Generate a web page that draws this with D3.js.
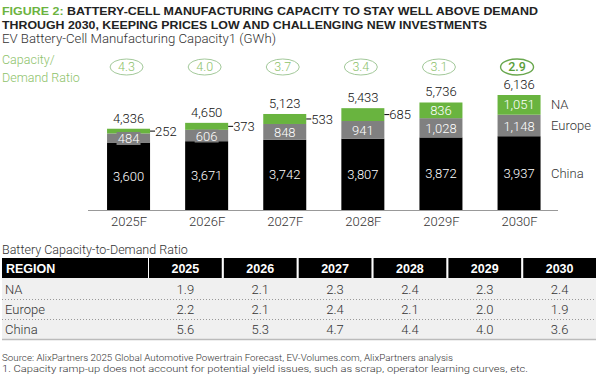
<!DOCTYPE html>
<html><head><meta charset="utf-8">
<script src="https://cdn.jsdelivr.net/npm/d3@7"></script>
<style>
html,body{margin:0;padding:0;background:#fff;}
svg{display:block;font-family:Roboto,"Noto Sans",sans-serif;}
</style></head>
<body><svg id="c" width="598" height="378"></svg>
<script>
// ---- data ----
const years = ["2025F","2026F","2027F","2028F","2029F","2030F"];
const china = [3600,3671,3742,3807,3872,3937];
const europe = [484,606,848,941,1028,1148];
const na = [252,373,533,685,836,1051];
const totals = [4336,4650,5123,5433,5736,6136];
const ratio = ["4.3","4.0","3.7","3.4","3.1","2.9"];
const tableYears = ["2025","2026","2027","2028","2029","2030"];
const tableRegions = ["NA","Europe","China"];
const naRatio = ["1.9","2.1","2.3","2.4","2.3","2.4"];
const europeRatio = ["2.2","2.1","2.4","2.1","2.0","1.9"];
const chinaRatio = ["5.6","5.3","4.7","4.4","4.0","3.6"];

const GREEN = "#69b43f", GRAY = "#808080", BLACK = "#000";
const TXT = "#333";
const svg = d3.select("#c");
const fmt = d3.format(",");

// ---- titles ----
const t1 = svg.append("text").attr("x",2).attr("y",15).attr("font-family","'Liberation Sans',Arial,sans-serif")
  .attr("font-weight","bold").attr("font-size",11.5).attr("fill","#222")
  .attr("textLength",536).attr("lengthAdjust","spacingAndGlyphs");
t1.append("tspan").attr("fill","#6cb33f").text("FIGURE 2: ");
t1.append("tspan").text("BATTERY-CELL MANUFACTURING CAPACITY TO STAY WELL ABOVE DEMAND");
svg.append("text").attr("x",2).attr("y",29).attr("font-family","'Liberation Sans',Arial,sans-serif")
  .attr("font-weight","bold").attr("font-size",11.5).attr("fill","#222")
  .attr("textLength",485).attr("lengthAdjust","spacingAndGlyphs")
  .text("THROUGH 2030, KEEPING PRICES LOW AND CHALLENGING NEW INVESTMENTS");
svg.append("text").attr("x",2).attr("y",43).attr("font-size",12.5).attr("font-weight",300).attr("fill",TXT)
  .attr("textLength",274).attr("lengthAdjust","spacingAndGlyphs")
  .text("EV Battery-Cell Manufacturing Capacity1 (GWh)");

// ---- chart ----
const x = d3.scalePoint().domain(years).range([89.5,558.1]).padding(0.5);
const y = d3.scaleLinear().domain([0,6136]).range([210,95]);
const bw = 43;

svg.append("text").attr("x",2).attr("y",64).attr("font-size",12.5).attr("font-weight",300).attr("fill","#8dc26a").text("Capacity/");
svg.append("text").attr("x",2).attr("y",82).attr("font-size",12.5).attr("font-weight",300).attr("fill","#8dc26a").text("Demand Ratio");

const g = svg.append("g");
years.forEach((yr,i)=>{
  const cx = x(yr);
  const y0 = y(0), y1 = y(china[i]), y2 = y(china[i]+europe[i]), y3 = y(china[i]+europe[i]+na[i]);
  g.append("rect").attr("x",cx-bw/2).attr("y",y1).attr("width",bw).attr("height",y0-y1).attr("fill",BLACK);
  g.append("rect").attr("x",cx-bw/2).attr("y",y2).attr("width",bw).attr("height",y1-y2).attr("fill",GRAY);
  g.append("rect").attr("x",cx-bw/2).attr("y",y3).attr("width",bw).attr("height",y2-y3).attr("fill",GREEN);
  // China label
  g.append("text").attr("x",cx).attr("y",(y0+y1)/2).attr("dy","0.35em").attr("text-anchor","middle")
    .attr("font-size",13).attr("font-weight",300).attr("fill","#fff").text(fmt(china[i]));
  // Europe label with bg box
  const ey = (y1+y2)/2 + 0.5;
  const ew = fmt(europe[i]).length*7+3;
  g.append("rect").attr("x",cx-ew/2).attr("y",ey-6.5).attr("width",ew).attr("height",13).attr("fill",GRAY);
  g.append("text").attr("x",cx).attr("y",ey).attr("dy","0.35em").attr("text-anchor","middle")
    .attr("font-size",13).attr("font-weight",300).attr("fill","#fff").text(fmt(europe[i]));
  // NA label
  const ny = (y2+y3)/2;
  if (y2-y3 >= 14) {
    g.append("text").attr("x",cx).attr("y",ny).attr("dy","0.35em").attr("text-anchor","middle")
      .attr("font-size",13).attr("font-weight",300).attr("fill","#fff").text(fmt(na[i]));
  } else {
    g.append("line").attr("x1",cx+bw/2).attr("x2",cx+bw/2+5).attr("y1",ny).attr("y2",ny).attr("stroke","#000").attr("stroke-width",1);
    g.append("text").attr("x",cx+bw/2+5).attr("y",ny).attr("dy","0.35em")
      .attr("font-size",13).attr("font-weight",300).attr("fill","#111").text(fmt(na[i]));
  }
  // total
  g.append("text").attr("x",cx).attr("y",y3-6).attr("text-anchor","middle")
    .attr("font-size",13).attr("font-weight",300).attr("fill","#111").text(fmt(totals[i]));
  // ratio ellipse
  const last = i===years.length-1;
  g.append("ellipse").attr("cx",cx-2).attr("cy",67).attr("rx",16.5).attr("ry",8)
    .attr("fill","none").attr("stroke",last?"#6aa84f":"#a3c99a").attr("stroke-width",last?1.4:1);
  g.append("text").attr("x",cx-2).attr("y",67).attr("dy","0.35em").attr("text-anchor","middle")
    .attr("font-size",12.5).attr("font-weight",last?500:300).attr("fill",last?"#5a9e3a":"#8dc26a").text(ratio[i]);
});

// axis
const xAxis = svg.append("g").attr("transform","translate(0,210)")
  .call(d3.axisBottom(x).tickSize(0).tickPadding(7));
xAxis.select(".domain").attr("d","M88,0.5H558").attr("stroke","#999");
xAxis.selectAll("text").attr("font-size",13).attr("font-weight",300).attr("fill",TXT).attr("font-family","Roboto,sans-serif");

// legend labels at right
const lastI = years.length-1;
const lx = 551;
const legend = [
  ["NA",(y(china[lastI]+europe[lastI])+y(totals[lastI]))/2],
  ["Europe",(y(china[lastI])+y(china[lastI]+europe[lastI]))/2],
  ["China",(y(0)+y(china[lastI]))/2]
];
legend.forEach(([t,ly])=>{
  svg.append("text").attr("x",lx).attr("y",ly).attr("dy","0.35em").attr("font-size",13).attr("font-weight",300).attr("fill",TXT).text(t);
});

// ---- table ----
svg.append("text").attr("x",2).attr("y",254).attr("font-size",12.5).attr("font-weight",300).attr("fill",TXT).text("Battery Capacity-to-Demand Ratio");
const tx = d3.scaleBand().domain(tableYears).range([149,596]).paddingInner(0.028);
const rowY = d3.scaleBand().domain(tableRegions).range([279,339]);
const hTop = 258, hBot = 278;
// row backgrounds
svg.append("rect").attr("x",2).attr("y",hBot).attr("width",594).attr("height",339-hBot).attr("fill","#f0f0f0");
// header
svg.append("rect").attr("x",2).attr("y",hTop).attr("width",146).attr("height",hBot-hTop).attr("fill","#000");
tableYears.forEach(yr=>{
  svg.append("rect").attr("x",tx(yr)).attr("y",hTop).attr("width",tx.bandwidth()).attr("height",hBot-hTop).attr("fill","#000");
  svg.append("text").attr("x",tx(yr)+tx.bandwidth()/2).attr("y",(hTop+hBot)/2).attr("dy","0.36em").attr("text-anchor","middle")
    .attr("font-family","'Liberation Sans',Arial,sans-serif").attr("font-weight","bold").attr("font-size",12.5).attr("fill","#fff").text(yr);
});
svg.append("text").attr("x",6).attr("y",(hTop+hBot)/2).attr("dy","0.36em")
  .attr("font-family","'Liberation Sans',Arial,sans-serif").attr("font-weight","bold").attr("font-size",12.5).attr("fill","#fff").text("REGION");
const rows = [naRatio, europeRatio, chinaRatio];
tableRegions.forEach((r,ri)=>{
  const ry = rowY(r), rh = rowY.bandwidth();
  svg.append("text").attr("x",5).attr("y",ry+rh/2).attr("dy","0.35em").attr("font-size",13).attr("font-weight",300).attr("fill",TXT).text(r);
  tableYears.forEach((yr,ci)=>{
    svg.append("text").attr("x",tx(yr)+tx.bandwidth()/2).attr("y",ry+rh/2).attr("dy","0.35em").attr("text-anchor","middle")
      .attr("font-size",13).attr("font-weight",300).attr("fill",TXT).text(rows[ri][ci]);
  });
  if (ri < tableRegions.length-1) {
    svg.append("line").attr("x1",2).attr("x2",596).attr("y1",ry+rh+0.5).attr("y2",ry+rh+0.5)
      .attr("stroke","#999").attr("stroke-dasharray","1,2");
  }
});
svg.append("line").attr("x1",2).attr("x2",596).attr("y1",339.5).attr("y2",339.5).attr("stroke","#bbb").attr("stroke-width",1.5);

// ---- footer ----
svg.append("text").attr("x",2).attr("y",361).attr("font-size",9).attr("font-weight",300).attr("fill",TXT)
  .attr("textLength",451).attr("lengthAdjust","spacingAndGlyphs")
  .text("Source: AlixPartners 2025 Global Automotive Powertrain Forecast, EV-Volumes.com, AlixPartners analysis");
svg.append("text").attr("x",2).attr("y",372).attr("font-size",9).attr("font-weight",300).attr("fill",TXT)
  .attr("textLength",526).attr("lengthAdjust","spacingAndGlyphs")
  .text("1. Capacity ramp-up does not account for potential yield issues, such as scrap, operator learning curves, etc.");
</script></body></html>
